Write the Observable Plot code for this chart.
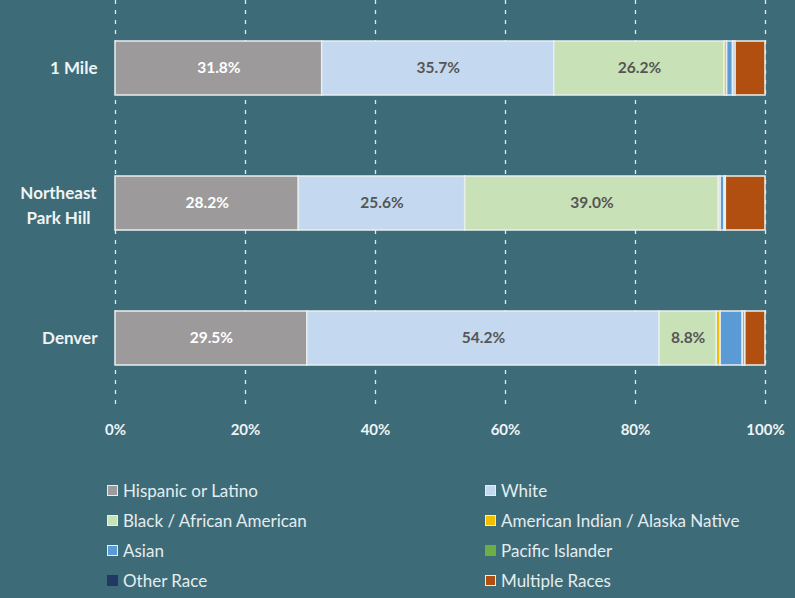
<!DOCTYPE html>
<html>
<head>
<meta charset="utf-8">
<script src="https://cdn.jsdelivr.net/npm/d3@7"></script>
<script src="https://cdn.jsdelivr.net/npm/@observablehq/plot@0.6"></script>
<style>
  html, body { margin: 0; padding: 0; background: #3e6b78; }
  body { width: 795px; height: 598px; overflow: hidden; font-family: Lato, "Open Sans", sans-serif; }
  #chart svg { display: block; }
  #legend {
    position: absolute; left: 107px; top: 480px;
    display: grid; grid-template-columns: 378px 300px; row-gap: 9px;
    color: #e4edef; font-size: 17px; line-height: 21px;
  }
  .item { display: flex; align-items: center; }
  .sw { width: 11px; height: 11px; margin-right: 5px; box-sizing: border-box; border: 1.5px solid #e8eef0; }
</style>
</head>
<body>
<div id="chart"></div>
<div id="legend"></div>
<script>
const areas = ["1 Mile", "Northeast\nPark Hill", "Denver"];
const races = ["Hispanic or Latino", "White", "Black / African American", "American Indian / Alaska Native", "Asian", "Pacific Islander", "Other Race", "Multiple Races"];
const colors = ["#9d9a9c", "#c4d9ef", "#c8e1b6", "#f2be00", "#5b9bd5", "#6fad47", "#1f3864", "#b04f0f"];
const hispanic = [31.8, 28.2, 29.5];
const white = [35.7, 25.6, 54.2];
const black = [26.2, 39.0, 8.8];
const amInd = [0.4, 0.3, 0.6];
const asian = [0.9, 0.6, 3.4];
const pacific = [0.1, 0.1, 0.1];
const other = [0.3, 0.1, 0.3];
const multiple = [4.6, 6.1, 3.1];
const xTicks = [0, 20, 40, 60, 80, 100];
const labeledRaces = ["Hispanic or Latino", "White", "Black / African American"];
const legendOrder = ["Hispanic or Latino", "White", "Black / African American", "American Indian / Alaska Native", "Asian", "Pacific Islander", "Other Race", "Multiple Races"];

const series = [hispanic, white, black, amInd, asian, pacific, other, multiple];
const data = [];
areas.forEach((a, i) => {
  races.forEach((r, j) => data.push({area: a, race: r, value: series[j][i]}));
});

const singleLine = areas.filter(a => !a.includes("\n"));
const multiLine = areas.filter(a => a.includes("\n"));

const chart = Plot.plot({
  width: 795,
  height: 448,
  marginLeft: 115,
  marginRight: 30,
  marginTop: 0,
  marginBottom: 42,
  style: {background: "transparent", fontFamily: "Lato, 'Open Sans', sans-serif"},
  x: {domain: [0, 100], ticks: xTicks, tickFormat: d => d + "%", tickSize: 0, tickPadding: 18, label: null},
  y: {domain: areas, padding: 0.6, paddingOuter: 0.3, axis: null},
  color: {domain: races, range: colors},
  marks: [
    Plot.ruleX(xTicks, {stroke: "#ffffff", strokeOpacity: 0.85, strokeDasharray: "4,6", strokeWidth: 1.3}),
    Plot.barX(data, Plot.stackX({x: "value", y: "area", fill: "race", stroke: "#e8eef0", strokeWidth: 1.5})),
    Plot.text(data, Plot.stackX({
      x: "value", y: "area", z: "race",
      text: d => labeledRaces.includes(d.race) ? d.value.toFixed(1) + "%" : "",
      fill: d => d.race === "Hispanic or Latino" ? "#ffffff" : "#555555",
      fontWeight: "bold", fontSize: 15.5
    })),
    Plot.text(singleLine, {y: d => d, text: d => d, frameAnchor: "left", dx: -18, textAnchor: "end", fill: "#eef4f5", fontWeight: "bold", fontSize: 17}),
    Plot.text(multiLine, {y: d => d, text: d => d, frameAnchor: "left", dx: -57, textAnchor: "middle", fill: "#eef4f5", fontWeight: "bold", fontSize: 17, lineHeight: 1.45}),
    Plot.axisX({ticks: xTicks, tickFormat: d => d + "%", tickSize: 0, tickPadding: 18, fill: "#eef4f5", fontWeight: "bold", fontSize: 15, label: null})
  ]
});
document.getElementById("chart").appendChild(chart);

const legend = document.getElementById("legend");
legendOrder.forEach(r => {
  const it = document.createElement("div");
  it.className = "item";
  const sw = document.createElement("span");
  sw.className = "sw";
  sw.style.background = colors[races.indexOf(r)];
  if (r === "Pacific Islander" || r === "Other Race") sw.style.border = "none";
  const t = document.createElement("span");
  t.textContent = r;
  it.appendChild(sw); it.appendChild(t);
  legend.appendChild(it);
});
</script>
</body>
</html>
